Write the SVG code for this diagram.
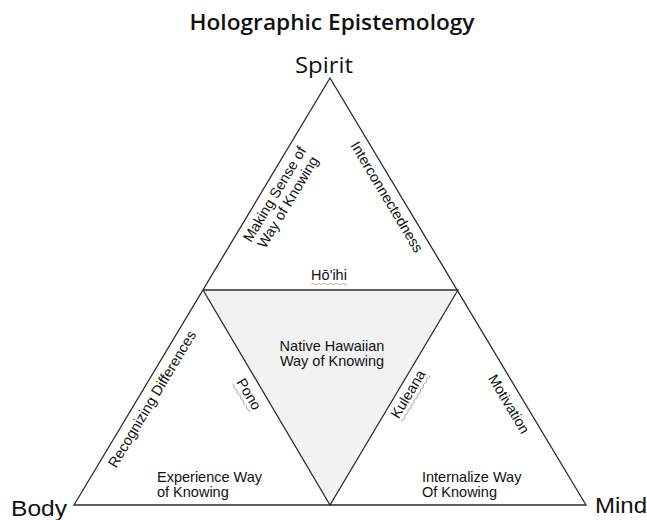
<svg xmlns="http://www.w3.org/2000/svg" width="647" height="520" viewBox="0 0 647 520">
<defs>
<style>
.lbl{font-family:"Liberation Sans",Arial,sans-serif;font-size:14.5px;fill:#111}
.big{font-family:"Liberation Sans",Arial,sans-serif;font-size:22px;fill:#111}
.title{font-family:"Open Sans","Noto Sans",sans-serif;font-size:22px;fill:#111;font-weight:600}
.vtx{font-family:"Open Sans","Noto Sans",sans-serif;font-size:22px;fill:#111;font-weight:400}
.edge{fill:none;stroke:#2b2b2b;stroke-width:1.3;stroke-linejoin:miter}
.wavy{fill:none;stroke:#9a9a9a;stroke-width:0.8}
</style>
</defs>
<rect width="647" height="520" fill="#ffffff"/>
<text class="title" x="332" y="30" text-anchor="middle" textLength="285" lengthAdjust="spacingAndGlyphs">Holographic Epistemology</text>

<g id="spirit"><text class="vtx" x="324" y="73" text-anchor="middle" textLength="58" lengthAdjust="spacingAndGlyphs">Spirit</text></g>
<g id="body"><text class="big" x="11" y="516" textLength="56" lengthAdjust="spacingAndGlyphs">Body</text></g>
<g id="mind"><text class="big" x="595" y="513" textLength="52" lengthAdjust="spacingAndGlyphs">Mind</text></g>

<g id="connectors">
<polygon id="center-tri" points="203,290 458,290 330,505" fill="#f2f2f2" stroke="none"/>
<polygon class="edge" points="330,78 74,505 586,505"/>
<polyline class="edge" points="203,290 458,290 330,505 203,290"/>
</g>

<g id="top">
<g transform="translate(281,198) rotate(-59)">
<text class="lbl" x="0" y="-2.5" text-anchor="middle">Making Sense of</text>
<text class="lbl" x="0" y="13" text-anchor="middle">Way of Knowing</text>
</g>
<g transform="translate(387,197) rotate(59)">
<text class="lbl" x="0" y="5" text-anchor="middle">Interconnectedness</text>
</g>
<text class="lbl" x="329" y="280" text-anchor="middle">Hō'ihi</text>
<path class="wavy" d="M311,284 q1.5,-1.5 3,0 t3,0 t3,0 t3,0 t3,0 t3,0 t3,0 t3,0 t3,0 t3,0 t3,0 t3,0"/>
</g>

<g id="center">
<text class="lbl" x="332" y="351" text-anchor="middle">Native Hawaiian</text>
<text class="lbl" x="332" y="366" text-anchor="middle">Way of Knowing</text>
</g>

<g id="left">
<g transform="translate(152,399) rotate(-59)">
<text class="lbl" x="0" y="5" text-anchor="middle">Recognizing Differences</text>
</g>
<g transform="translate(249,394) rotate(59)">
<text class="lbl" x="0" y="5" text-anchor="middle">Pono</text>
<path class="wavy" d="M-17,9 q1.5,-1.5 3,0 t3,0 t3,0 t3,0 t3,0 t3,0 t3,0 t3,0 t3,0 t3,0 t3,0"/>
</g>
<text class="lbl" x="157" y="482">Experience Way</text>
<text class="lbl" x="157" y="497">of Knowing</text>
</g>

<g id="right">
<g transform="translate(408,394) rotate(-59)">
<text class="lbl" x="0" y="5" text-anchor="middle">Kuleana</text>
<path class="wavy" d="M-27,9 q1.5,-1.5 3,0 t3,0 t3,0 t3,0 t3,0 t3,0 t3,0 t3,0 t3,0 t3,0 t3,0 t3,0 t3,0 t3,0 t3,0 t3,0 t3,0 t3,0"/>
</g>
<g transform="translate(509,404) rotate(59)">
<text class="lbl" x="0" y="5" text-anchor="middle">Motivation</text>
</g>
<text class="lbl" x="422" y="482">Internalize Way</text>
<text class="lbl" x="422" y="497">Of Knowing</text>
</g>
</svg>
